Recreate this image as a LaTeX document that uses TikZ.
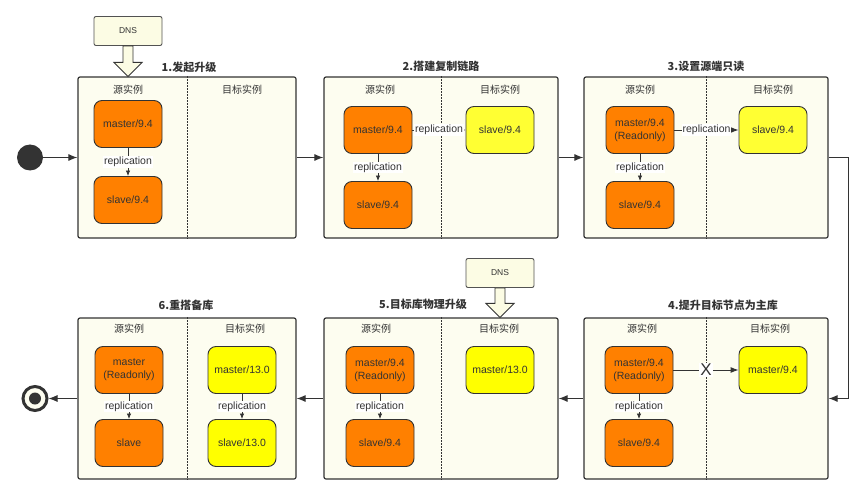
\documentclass[tikz,border=0pt]{standalone}
\usepackage{fontspec}
\setmainfont{Liberation Sans}
\newfontfamily\cjk{Noto Sans CJK SC}
\usetikzlibrary{arrows.meta,calc}
\definecolor{cream}{HTML}{FDFDF0}
\definecolor{orng}{HTML}{FF8000}
\definecolor{yel}{HTML}{FFFF33}
\definecolor{yelb}{HTML}{FFFF00}
\definecolor{ink}{HTML}{333333}
\definecolor{dnsfill}{HTML}{FCFCE4}
\begin{document}
\begin{tikzpicture}[x=1pt,y=-1pt,
 panel/.style={draw=ink, line width=1.2pt, fill=cream, rounded corners=2pt, minimum height=161pt, inner sep=0pt},
 ttl/.style={font=\cjk\bfseries\fontsize{11}{13}\selectfont, text=ink},
 hdr/.style={font=\cjk\fontsize{10}{12}\selectfont, text=ink},
 inst/.style={draw=ink, line width=0.9pt, rounded corners=8pt, minimum width=68pt, minimum height=47pt, font=\fontsize{10.5}{13}\selectfont, text=ink, align=center, inner sep=0pt},
 src/.style={inst, fill=orng},
 tgt/.style={inst, fill=yel},
 tgtb/.style={inst, fill=yelb},
 rep/.style={draw=ink, line width=0.8pt, -{Latex[length=5.5pt,width=4.5pt]}},
 reph/.style={draw=ink, line width=0.9pt, -{Latex[length=8pt,width=6pt]}},
 replbl/.style={fill=white, inner sep=1pt, font=\fontsize{10.5}{12}\selectfont, text=ink},
 conn/.style={draw=ink, line width=1pt, -{Latex[length=9pt,width=7pt]}},
 divider/.style={draw=ink, line width=0.9pt, dash pattern=on 1.5pt off 1.5pt},
 dnsbox/.style={draw=ink!85, fill=dnsfill, line width=0.9pt, rounded corners=2pt, minimum width=68pt, minimum height=29pt, font=\fontsize{8.5}{10}\selectfont, text=ink},
 hollow/.style={draw=ink, fill=dnsfill, line width=0.9pt, line join=miter}
]
\useasboundingbox (0,0) rectangle (866,497);

% ---------- panels ----------
\node[panel, minimum width=218pt] (p1) at (187,157.5) {};
\node[panel, minimum width=234pt] (p2) at (441,157.5) {};
\node[panel, minimum width=244pt] (p3) at (706,157.5) {};
\node[panel, minimum width=244pt] (p4) at (706,398.5) {};
\node[panel, minimum width=234pt] (p5) at (441,398.5) {};
\node[panel, minimum width=218pt] (p6) at (187,398.5) {};
\foreach \p in {p1,p2,p3,p4,p5,p6} \draw[divider] (\p.north) -- (\p.south);

% ---------- titles ----------
\node[ttl] (t1) at (189,67) {1.发起升级};
\node[ttl] (t2) at (441,66) {2.搭建复制链路};
\node[ttl] (t3) at (706,66) {3.设置源端只读};
\node[ttl] (t4) at (723,305) {4.提升目标节点为主库};
\node[ttl] (t5) at (423,304) {5.目标库物理升级};
\node[ttl] (t6) at (186,305) {6.重搭备库};

% ---------- headers ----------
\node[hdr] (h1a) at (128,90) {源实例};  \node[hdr] (h1b) at (242,90) {目标实例};
\node[hdr] (h2a) at (380,90) {源实例};  \node[hdr] (h2b) at (500,90) {目标实例};
\node[hdr] (h3a) at (640,90) {源实例};  \node[hdr] (h3b) at (773,90) {目标实例};
\node[hdr] (h4a) at (642,329) {源实例}; \node[hdr] (h4b) at (770,329) {目标实例};
\node[hdr] (h5a) at (376,329) {源实例}; \node[hdr] (h5b) at (499,329) {目标实例};
\node[hdr] (h6a) at (129,329) {源实例}; \node[hdr] (h6b) at (245,329) {目标实例};

% ---------- panel 1 ----------
\node[src] (m1) at (128,124) {master/9.4};
\node[src] (s1) at (128,200) {slave/9.4};
\draw[rep] (m1) -- node[replbl] {replication} (s1);

% ---------- panel 2 ----------
\node[src] (m2) at (378,130) {master/9.4};
\node[src] (s2) at (378,205) {slave/9.4};
\node[tgt] (r2) at (500,130) {slave/9.4};
\draw[rep] (m2) -- node[replbl] {replication} (s2);
\draw[rep] (m2) -- node[replbl] {replication} (r2);

% ---------- panel 3 ----------
\node[src] (m3) at (640,130) {master/9.4\\(Readonly)};
\node[src] (s3) at (640,205) {slave/9.4};
\node[tgt] (r3) at (773,130) {slave/9.4};
\draw[rep] (m3) -- node[replbl] {replication} (s3);
\draw[reph] (m3) -- node[replbl] {replication} (r3);

% ---------- panel 4 ----------
\node[src] (m4) at (639,370) {master/9.4\\(Readonly)};
\node[src] (s4) at (639,443) {slave/9.4};
\node[tgtb] (r4) at (773,370) {master/9.4};
\draw[rep] (m4) -- node[replbl] {replication} (s4);
\draw[reph] (m4) -- (r4);
\node[fill=white, inner sep=1pt, font=\fontsize{17}{17}\selectfont, text=ink] (x4) at ($(m4.east)!0.5!(r4.west)$) {X};

% ---------- panel 5 ----------
\node[src] (m5) at (380,370) {master/9.4\\(Readonly)};
\node[src] (s5) at (380,443) {slave/9.4};
\node[tgtb] (r5) at (500,370) {master/13.0};
\draw[rep] (m5) -- node[replbl] {replication} (s5);

% ---------- panel 6 ----------
\node[src] (m6) at (129,370) {master\\(Readonly)};
\node[src] (s6) at (129,443) {slave};
\node[tgtb] (r6) at (242,370) {master/13.0};
\node[tgtb] (u6) at (242,443) {slave/13.0};
\draw[rep] (m6) -- node[replbl] {replication} (s6);
\draw[rep] (r6) -- node[replbl] {replication} (u6);

% ---------- DNS ----------
\node[dnsbox] (dns1) at (128,31) {DNS};
\draw[hollow] ($(dns1.south)+(-5,0)$) -- ($(dns1.south |- p1.north)+(-5,-14)$) -- ++(-9,0)
  -- (dns1.south |- p1.north) -- ++(14,-14) -- ++(-9,0) -- ($(dns1.south)+(5,0)$) -- cycle;
\node[dnsbox] (dns5) at (500,273) {DNS};
\draw[hollow] ($(dns5.south)+(-5,0)$) -- ($(dns5.south |- p5.north)+(-5,-14)$) -- ++(-9,0)
  -- (dns5.south |- p5.north) -- ++(14,-14) -- ++(-9,0) -- ($(dns5.south)+(5,0)$) -- cycle;

% ---------- start / end ----------
\node[circle, fill=ink, minimum size=26pt, inner sep=0pt] (start) at (30,157.5) {};
\node[circle, draw=ink, line width=3pt, fill=cream, minimum size=24pt, inner sep=0pt] (end) at (35,398.5) {};
\node[circle, fill=ink, minimum size=12pt, inner sep=0pt] (endin) at (end) {};

% ---------- flow connectors ----------
\draw[conn] (start) -- (p1.west);
\draw[conn] (p1.east) -- (p2.west);
\draw[conn] (p2.east) -- (p3.west);
\draw[conn] (p3.east) -- ++(20,0) |- (p4.east);
\draw[conn] (p4.west) -- (p5.east);
\draw[conn] (p5.west) -- (p6.east);
\draw[conn] (p6.west) -- (end);
\end{tikzpicture}
\end{document}
